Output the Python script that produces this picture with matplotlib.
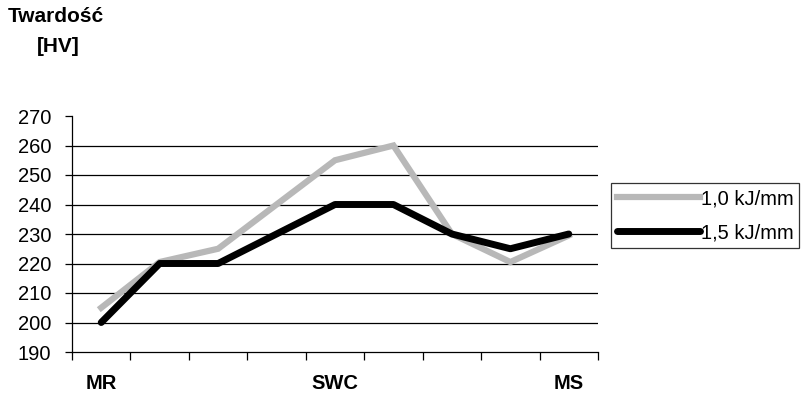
import numpy as np
import matplotlib.pyplot as plt

# data
categories = ["MR", "", "", "", "SWC", "", "", "", "MS"]
hv_10 = [205, 220.5, 225, 240, 255, 260, 230, 220.5, 229.5]
hv_15 = [200, 220, 220, 230, 240, 240, 230, 225, 230]
series_names = ["1,0 kJ/mm", "1,5 kJ/mm"]
y_ticks = [190, 200, 210, 220, 230, 240, 250, 260, 270]

plt.rcParams['font.family'] = ['Liberation Sans', 'DejaVu Sans']
fs = 14.5

fig = plt.figure(figsize=(8.03, 3.97), dpi=100)
ax = fig.add_axes([72 / 803, 1 - 352 / 397, (598 - 72) / 803, (352 - 116) / 397])

x = np.arange(len(categories))
ax.plot(x, hv_10, color='#b8b8b8', lw=4.5, solid_joinstyle='miter', label=series_names[0], zorder=3)
ax.plot(x, hv_15, color='black', lw=5, solid_capstyle='round', solid_joinstyle='round',
        label=series_names[1], zorder=4)

ax.set_xlim(-0.5, len(categories) - 0.5)
ax.set_ylim(190, 270)

# grid lines (none on the top edge)
for v in y_ticks[1:-1]:
    ax.axhline(v, color='black', lw=0.9, zorder=1)

ax.set_yticks(y_ticks)
ax.tick_params(axis='y', direction='out', length=5, width=0.9, labelsize=fs, pad=10)

ax.set_xticks(x)
ax.set_xticklabels(categories, fontsize=fs, fontweight='bold')
ax.tick_params(axis='x', length=0, pad=16)
ax.set_xticks(np.arange(-0.5, len(categories)), minor=True)
ax.tick_params(axis='x', which='minor', direction='out', length=6, width=0.9)

for s in ['top', 'right']:
    ax.spines[s].set_visible(False)
ax.spines['left'].set_linewidth(0.9)
ax.spines['bottom'].set_linewidth(0.9)

fig.text(56 / 803, 1 - 17 / 397, "Twardość", ha='center', va='center',
         fontsize=15, fontweight='bold')
fig.text(58 / 803, 1 - 46 / 397, "[HV]", ha='center', va='center',
         fontsize=15, fontweight='bold')

leg = fig.legend(loc='upper left', bbox_to_anchor=(611 / 803, 1 - 183 / 397),
                 fontsize=fs, frameon=True, fancybox=False, edgecolor='black',
                 handlelength=4.1, handletextpad=0.05, borderpad=0.3, labelspacing=0.75,
                 borderaxespad=0)
leg.get_frame().set_linewidth(0.9)

fig.savefig("out.png", dpi=100)
